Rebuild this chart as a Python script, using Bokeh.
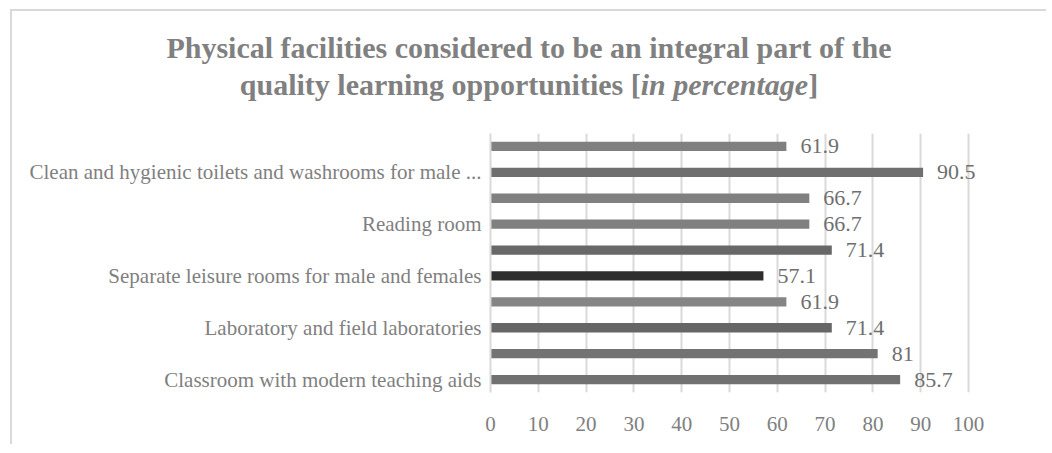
from bokeh.plotting import figure
from bokeh.models import FixedTicker, ColumnDataSource, Range1d, Div, Column
from bokeh.core.properties import value
from bokeh.embed import file_html
from bokeh.resources import INLINE

# Data (bottom to top, as drawn)
categories = [
    "Classroom with modern teaching aids",
    "",
    "Laboratory and field laboratories",
    "",
    "Separate leisure rooms for male and females",
    "",
    "Reading room",
    "",
    "Clean and hygienic toilets and washrooms for male ...",
    "",
]
values = [85.7, 81, 71.4, 61.9, 57.1, 71.4, 66.7, 66.7, 90.5, 61.9]
bar_colors = ["#717171", "#737373", "#666666", "#858585", "#2e2e2e",
              "#686868", "#808080", "#808080", "#6f6f6f", "#808080"]
x_ticks = [0, 10, 20, 30, 40, 50, 60, 70, 80, 90, 100]

title_line1 = "Physical facilities considered to be an integral part of the"
title_line2 = "quality learning opportunities ["
title_italic = "in percentage"
title_end = "]"

W = 1034
DIV_H = 100

positions = list(range(len(values)))
src = ColumnDataSource(dict(
    pos=positions,
    val=values,
    color=bar_colors,
    label=[f"{v:g}" for v in values],
))

title_div = Div(
    text=(f'<div style="width:{W - 4}px; text-align:center; '
          f'font-family:Liberation Serif, serif; '
          f'font-weight:bold; font-size:30px; line-height:37px; color:#808080; '
          f'padding-top:18px; white-space:nowrap;">{title_line1}<br>'
          f'{title_line2}<i>{title_italic}</i>{title_end}</div>'),
    width=W, height=DIV_H, margin=(0, 0, 0, 0),
    styles={"text-align": "center", "font-family": "Liberation Serif, serif"})

# x scale: 100 units across 478 px; frame extended to the right so labels fit
px_per_unit = 4.78
frame_w = 550
p = figure(width=W, height=333,
           x_range=Range1d(0, frame_w / px_per_unit),
           y_range=Range1d(-0.5, len(values) - 0.5),
           output_backend="svg", toolbar_location=None,
           min_border_left=478, min_border_right=W - 478 - frame_w,
           min_border_top=22, min_border_bottom=52, margin=(0, 0, 0, 0))
p.outline_line_color = None
p.background_fill_color = "white"
p.border_fill_color = "white"

p.hbar(y="pos", left=0, right="val", height=0.36, fill_color="color",
       line_color=None, source=src)

p.text(x="val", y="pos", text="label", x_offset=14, text_align="left",
       text_baseline="middle", text_font=value("Liberation Serif"),
       text_font_size="22px", text_color="#6f6f6f", source=src)

# x axis
p.xaxis.ticker = FixedTicker(ticks=x_ticks)
p.xaxis.axis_line_color = None
p.xaxis.major_tick_line_color = None
p.xaxis.minor_tick_line_color = None
p.xaxis.major_tick_out = 0
p.xaxis.major_tick_in = 0
p.xaxis.major_label_standoff = 24
p.xaxis.major_label_text_font = "Liberation Serif"
p.xaxis.major_label_text_font_size = "21px"
p.xaxis.major_label_text_color = "#808080"

# y axis
p.yaxis.ticker = FixedTicker(ticks=positions)
p.yaxis.major_label_overrides = {i: c for i, c in zip(positions, categories)}
p.yaxis.axis_line_color = "#d9d9d9"
p.yaxis.axis_line_width = 2
p.yaxis.major_tick_line_color = None
p.yaxis.minor_tick_line_color = None
p.yaxis.major_tick_out = 0
p.yaxis.major_tick_in = 0
p.yaxis.major_label_standoff = 9
p.yaxis.major_label_text_font = "Liberation Serif"
p.yaxis.major_label_text_font_size = "21px"
p.yaxis.major_label_text_color = "#7f7f7f"

# grid
p.ygrid.grid_line_color = None
p.xgrid.ticker = FixedTicker(ticks=x_ticks)
p.xgrid.grid_line_color = "#d9d9d9"
p.xgrid.grid_line_width = 2

layout = Column(title_div, p, spacing=0,
                styles={"border-top": "2px solid #d9d9d9",
                        "border-left": "2px solid #d9d9d9",
                        "margin-left": "10px", "margin-top": "9px",
                        "background-color": "white"})

open("out.html", "w").write(file_html(layout, INLINE))
